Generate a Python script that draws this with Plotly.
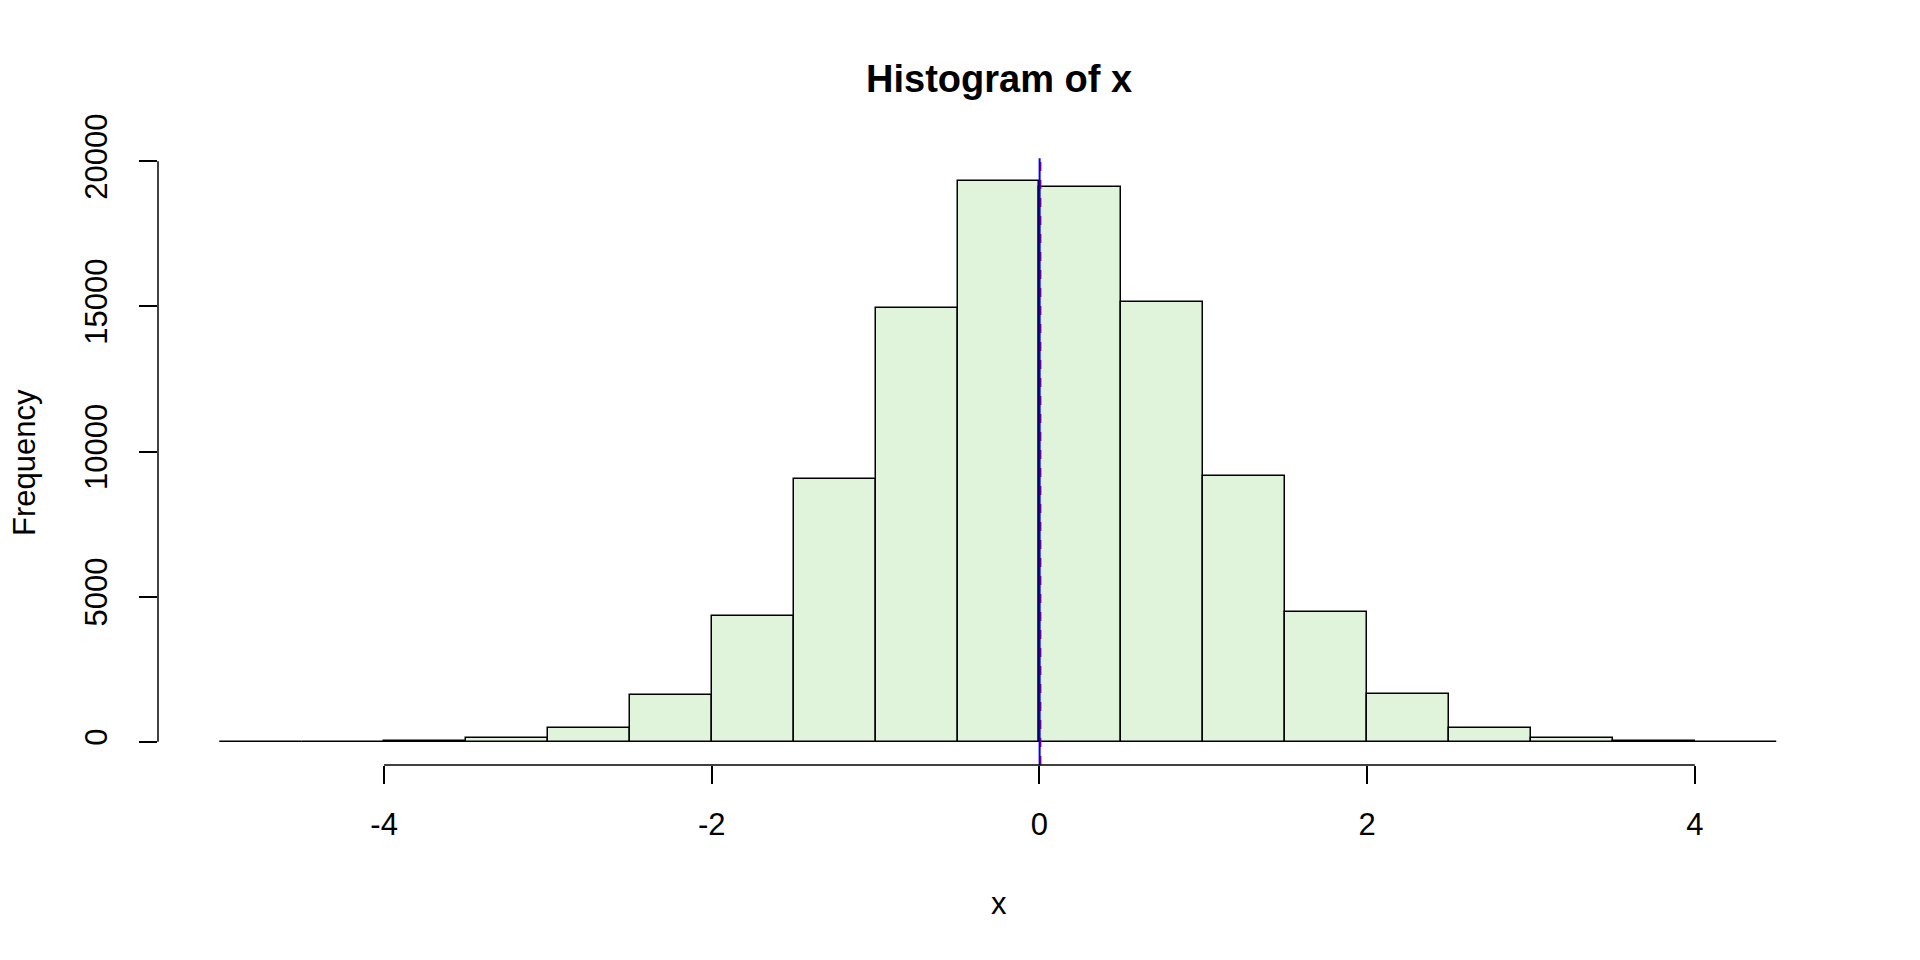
import plotly.graph_objects as go

# Histogram data
bin_left = [-5.0, -4.5, -4.0, -3.5, -3.0, -2.5, -2.0, -1.5, -1.0, -0.5,
            0.0, 0.5, 1.0, 1.5, 2.0, 2.5, 3.0, 3.5, 4.0]
bin_width = 0.5
counts = [1, 3, 30, 130, 470, 1600, 4350, 9070, 14940, 19320,
          19110, 15150, 9150, 4470, 1650, 480, 140, 30, 5]
mean_x = 0.001
median_x = 0.006
x_ticks = [-4, -2, 0, 2, 4]
y_ticks = [0, 5000, 10000, 15000, 20000]
line_top = 20000
line_bottom = -800

FONT = "Liberation Sans, Arial, Helvetica, sans-serif"
centers = [b + bin_width / 2 for b in bin_left]

W, H = 1920, 960
L, R, T, B = 150, 89, 130, 203

def px(xpix):
    return (xpix - L) / (W - L - R)

def py(ypix):
    return (H - B - ypix) / (H - T - B)

fig = go.Figure()
fig.add_trace(go.Bar(
    x=centers, y=counts, width=bin_width,
    marker=dict(color="#E0F3DB", line=dict(color="black", width=1.5)),
    hoverinfo="x+y", showlegend=False,
))
# median (red dashed) and mean (blue solid)
fig.add_trace(go.Scatter(x=[median_x, median_x], y=[line_bottom, line_top + 200], mode="lines",
                         line=dict(color="red", width=2, dash="dash"), showlegend=False))
fig.add_trace(go.Scatter(x=[mean_x, mean_x], y=[line_bottom, line_top + 100], mode="lines",
                         line=dict(color="blue", width=2), showlegend=False))

# R-style axis lines
fig.add_shape(type="line", xref="x", yref="paper", x0=x_ticks[0], x1=x_ticks[-1], y0=0, y1=0,
              line=dict(color="black", width=1.5))
fig.add_shape(type="line", xref="paper", yref="y", x0=0, x1=0, y0=y_ticks[0], y1=y_ticks[-1],
              line=dict(color="black", width=1.5))

fig.update_layout(
    width=W, height=H,
    margin=dict(l=L, r=R, t=T, b=B),
    plot_bgcolor="white", paper_bgcolor="white",
    font=dict(family=FONT, size=31, color="black"),
    bargap=0,
    xaxis=dict(range=[-5.38, 4.88], showgrid=False, zeroline=False, showline=False,
               tickmode="array", tickvals=x_ticks, ticktext=[str(v) for v in x_ticks],
               ticks="outside", ticklen=18, tickwidth=1.5, tickcolor="black",
               tickfont=dict(size=31), ticklabelstandoff=14),
    yaxis=dict(range=[-800, 20800], showgrid=False, zeroline=False, showline=False,
               tickmode="array", tickvals=y_ticks, ticktext=[str(v) for v in y_ticks],
               ticks="outside", ticklen=18, tickwidth=1.5, tickcolor="black",
               tickangle=-90, tickfont=dict(size=31), ticklabelstandoff=20),
    annotations=[
        dict(text="<b>Histogram of x</b>", xref="paper", yref="paper", x=px(991), y=py(71),
             showarrow=False, font=dict(size=38), xanchor="center", yanchor="middle"),
        dict(text="x", xref="paper", yref="paper", x=px(991), y=py(895),
             showarrow=False, font=dict(size=31), xanchor="center", yanchor="middle"),
        dict(text="Frequency", xref="paper", yref="paper", x=px(16), y=py(455),
             showarrow=False, font=dict(size=31), textangle=-90, xanchor="center", yanchor="middle"),
    ],
)

fig.write_html("out.html")
